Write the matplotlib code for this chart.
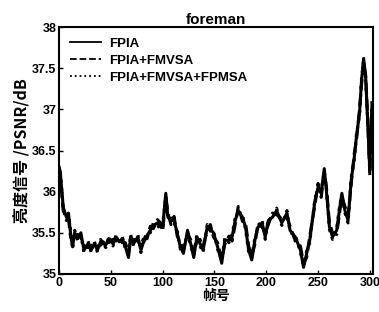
import matplotlib
matplotlib.use("Agg")
import matplotlib.pyplot as plt

frames = [0,1,4,7,9,11,13,15,18,21,
          24,28,31,34,37,40,45,48,52,55,
          58,61,64,67,69,72,76,79,81,85,
          88,91,95,98,100,103,105,108,111,114,
          117,120,124,127,130,133,136,139,143,146,
          149,153,157,160,164,167,170,173,177,180,
          183,186,189,192,196,199,202,206,210,215,
          220,223,228,233,236,239,242,247,250,253,
          256,258,261,264,268,271,273,276,279,282,
          285,287,290,292,294,296,298,300,302]

fpia = [36.30,36.25,35.81,35.69,35.74,35.50,35.33,35.50,35.43,35.50,
        35.29,35.37,35.29,35.37,35.29,35.39,35.35,35.43,35.37,35.45,
        35.39,35.43,35.33,35.20,35.45,35.37,35.45,35.29,35.37,35.47,
        35.53,35.59,35.62,35.57,35.57,35.98,35.69,35.65,35.65,35.50,
        35.33,35.25,35.53,35.37,35.20,35.45,35.37,35.29,35.57,35.55,
        35.50,35.33,35.13,35.41,35.41,35.45,35.65,35.77,35.69,35.57,
        35.29,35.17,35.41,35.57,35.62,35.45,35.65,35.69,35.77,35.62,
        35.74,35.53,35.45,35.29,35.08,35.25,35.41,35.89,36.05,35.98,
        36.28,36.02,35.57,35.45,35.53,35.81,35.98,35.77,35.65,36.14,
        36.42,36.66,36.95,37.35,37.62,37.38,36.83,36.25,37.05]

fpia_fmvsa = [36.26,36.20,35.76,35.73,35.68,35.45,35.38,35.46,35.48,35.44,
              35.34,35.32,35.35,35.31,35.34,35.35,35.41,35.38,35.42,35.40,
              35.44,35.38,35.38,35.25,35.40,35.42,35.40,35.34,35.42,35.43,
              35.58,35.55,35.66,35.62,35.52,35.93,35.74,35.60,35.70,35.46,
              35.38,35.30,35.48,35.42,35.25,35.40,35.42,35.34,35.52,35.60,
              35.45,35.38,35.18,35.36,35.46,35.40,35.60,35.82,35.64,35.62,
              35.34,35.22,35.36,35.62,35.57,35.50,35.60,35.74,35.72,35.67,
              35.69,35.58,35.40,35.34,35.13,35.20,35.46,35.84,36.10,35.93,
              36.23,36.07,35.62,35.50,35.48,35.76,35.93,35.82,35.70,36.09,
              36.47,36.61,37.00,37.30,37.57,37.42,36.88,36.20,37.00]

fpia_fmvsa_fpmsa = [36.22,36.28,35.78,35.65,35.70,35.54,35.30,35.53,35.40,35.47,
                    35.26,35.40,35.26,35.40,35.26,35.42,35.32,35.46,35.34,35.48,
                    35.36,35.46,35.30,35.23,35.48,35.34,35.48,35.26,35.40,35.50,
                    35.50,35.62,35.59,35.54,35.60,35.95,35.66,35.68,35.62,35.53,
                    35.30,35.28,35.50,35.34,35.23,35.48,35.34,35.26,35.60,35.52,
                    35.53,35.30,35.16,35.44,35.38,35.48,35.68,35.74,35.72,35.54,
                    35.26,35.20,35.44,35.54,35.65,35.42,35.68,35.66,35.80,35.59,
                    35.77,35.50,35.48,35.26,35.11,35.28,35.38,35.92,36.02,36.01,
                    36.25,36.05,35.54,35.42,35.56,35.84,35.95,35.74,35.62,36.17,
                    36.39,36.69,36.92,37.38,37.60,37.35,36.86,36.28,37.10]

labels = ["FPIA", "FPIA+FMVSA", "FPIA+FMVSA+FPMSA"]
yticks = [35, 35.5, 36, 36.5, 37, 37.5, 38]
ytick_labels = ["35", "35.5", "36", "36.5", "37", "37.5", "38"]
xticks = [0, 50, 100, 150, 200, 250, 300]

fig = plt.figure(figsize=(3.79, 3.12), dpi=100)
ax = fig.add_axes([0.156, 0.122, 0.828, 0.791])

ax.plot(frames, fpia, color="black", linestyle="-", linewidth=2.2, label=labels[0])
ax.plot(frames, fpia_fmvsa, color="black", linestyle="--", linewidth=2.2, label=labels[1])
ax.plot(frames, fpia_fmvsa_fpmsa, color="black", linestyle=":", linewidth=2.2, label=labels[2])

ax.set_xlim(0, 303)
ax.set_ylim(35, 38)
ax.set_xticks(xticks)
ax.set_yticks(yticks)
ax.set_yticklabels(ytick_labels)
ax.tick_params(direction="in", length=3, width=1, labelsize=9, pad=2)
for lab in ax.get_xticklabels() + ax.get_yticklabels():
    lab.set_family("Liberation Sans")
    lab.set_fontweight("bold")
for sp in ax.spines.values():
    sp.set_linewidth(1.5)

cjk = ["Noto Sans CJK SC", "DejaVu Sans"]
ax.set_title("foreman", fontsize=11, fontweight="bold", family="Liberation Sans", pad=2)
ax.set_xlabel("帧号", fontsize=10, fontweight="bold", family=cjk, labelpad=0)
ax.set_ylabel("亮度信号 /PSNR/dB", fontsize=11.5, fontweight="bold", family=cjk, labelpad=1)

leg = ax.legend(loc="upper left", frameon=False, handlelength=2.4,
                handletextpad=0.6, labelspacing=0.35, borderaxespad=0.4,
                prop={"family": "Liberation Sans", "weight": "bold", "size": 9.5})
for line in leg.get_lines():
    line.set_linewidth(1.3)

fig.savefig("out.png", dpi=100)
